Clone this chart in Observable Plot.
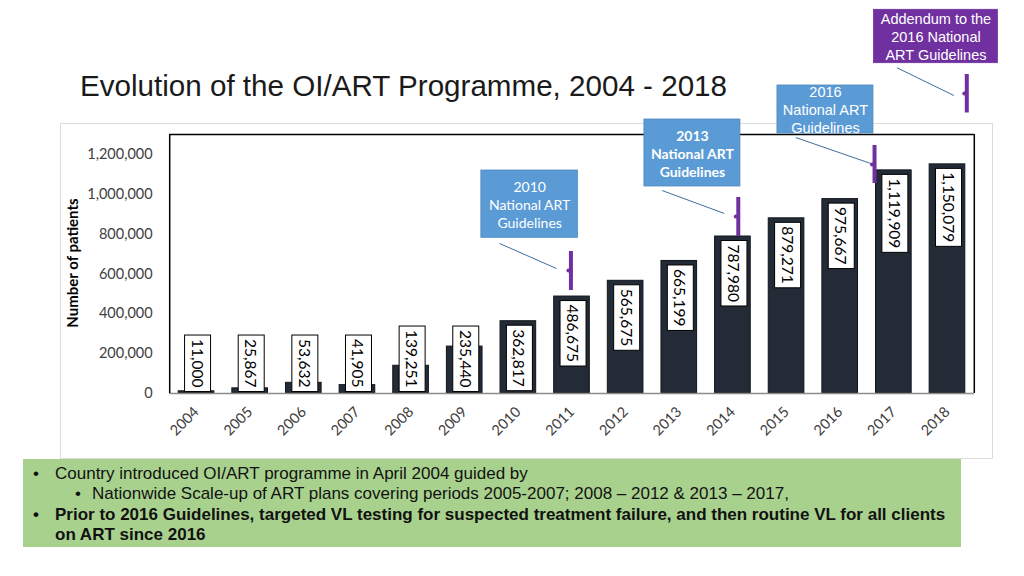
<!DOCTYPE html>
<html><head><meta charset="utf-8">
<script src="https://cdn.jsdelivr.net/npm/d3@7"></script>
<script src="https://cdn.jsdelivr.net/npm/@observablehq/plot@0.6"></script>
<style>
body{margin:0;width:1024px;height:576px;position:relative;background:#fff;overflow:hidden;font-family:"Liberation Sans",Arial,sans-serif;}
#panel{position:absolute;left:60px;top:123px;width:931px;height:334px;border:1px solid #dcdcdc;background:#fff;}
#chart{position:absolute;left:0;top:0;}
#title{position:absolute;left:80px;top:71px;font-size:29.6px;line-height:1;color:#1a1a1a;white-space:nowrap;}
#ylabel{position:absolute;left:72px;top:263px;transform:translate(-50%,-50%) rotate(-90deg);font:bold 15px Lato,sans-serif;white-space:nowrap;color:#000}
#notes{position:absolute;left:23px;top:459px;width:938px;height:88px;background:#a9d18e;font-size:17px;line-height:1;color:#111;}
.ln{position:absolute;white-space:nowrap}
.b{font-weight:bold}
</style>
</head><body>
<div id="panel"></div>
<div id="chart"></div>
<div id="title">Evolution of the OI/ART Programme, 2004 - 2018</div>
<div id="ylabel">Number of patients</div>
<div id="notes">
  <div class="ln" style="left:10px;top:6px">•</div>
  <div class="ln" style="left:32px;top:6px">Country introduced OI/ART programme in April 2004 guided by</div>
  <div class="ln" style="left:52px;top:26px">•</div>
  <div class="ln" style="left:69px;top:26px">Nationwide Scale-up of ART plans covering periods 2005-2007; 2008 – 2012 &amp; 2013 – 2017,</div>
  <div class="ln b" style="left:10px;top:47px">•</div>
  <div class="ln b" style="left:32px;top:47px">Prior to 2016 Guidelines, targeted VL testing for suspected treatment failure, and then routine VL for all clients</div>
  <div class="ln b" style="left:32px;top:67px">on ART since 2016</div>
</div>
<script>
// ---- data ----
const years = [2004, 2005, 2006, 2007, 2008, 2009, 2010, 2011, 2012, 2013, 2014, 2015, 2016, 2017, 2018];
const patients = [11000, 25867, 53632, 41905, 139251, 235440, 362817, 486675, 565675, 665199, 787980, 879271, 975667, 1119909, 1150079];
const yTicks = [0, 200000, 400000, 600000, 800000, 1000000, 1200000];

// ---- annotations (in data coordinates: year, patients) ----
const noteText = ["Addendum to the\n2016 National\nART Guidelines", "2016\nNational ART\nGuidelines", "2013\nNational ART\nGuidelines", "2010\nNational ART\nGuidelines"];
const noteX1 = [2016.63, 2014.83, 2012.35, 2009.31];
const noteX2 = [2018.94, 2016.62, 2014.14, 2011.11];
const noteY1 = [1657900, 1305000, 1039000, 781500];
const noteY2 = [1925900, 1546000, 1375300, 1119300];

const bracketX = [2010.98, 2014.10, 2016.64, 2018.36];
const bracketLo = [517000, 788000, 1054000, 1408000];
const bracketHi = [712700, 983800, 1244800, 1601200];
const bracketMid = [617400, 888400, 1149400, 1506000];

const leadX1 = [2009.65, 2012.68, 2015.17, 2017.06];
const leadY1 = [752900, 1018900, 1284900, 1634800];
const leadX2 = [2010.71, 2013.84, 2016.57, 2018.12];
const leadY2 = [627400, 903500, 1154400, 1495700];

const bars = years.map((year, i) => ({year, value: patients[i]}));
const notes = noteText.map((text, i) => ({text, i, x1: noteX1[i], x2: noteX2[i], y1: noteY1[i], y2: noteY2[i]}));
const brackets = bracketX.map((x, i) => ({x, lo: bracketLo[i], hi: bracketHi[i], mid: bracketMid[i]}));
const leaders = leadX1.map((x1, i) => ({x1, y1: leadY1[i], x2: leadX2[i], y2: leadY2[i]}));

const fmt = d3.format(",");
const purple = "#7030a0", blue = "#5b9bd5";

const plot = Plot.plot({
  width: 1024, height: 460,
  marginTop: 134, marginBottom: 67, marginLeft: 169.2, marginRight: 50.2,
  style: {background: "transparent", fontFamily: "Lato, sans-serif", fontSize: "14.5px", color: "#404040", overflow: "visible"},
  x: {type: "linear", domain: [2003.5, 2018.5], ticks: years, tickFormat: d => String(d), tickRotate: -45, tickSize: 0, tickPadding: 16, label: null},
  y: {domain: [0, 1300000], ticks: yTicks, tickFormat: fmt, tickSize: 0, tickPadding: 17, label: null},
  marks: [
    Plot.rectY(bars, {x1: d => d.year - 0.5, x2: d => d.year + 0.5, y: "value", insetLeft: 9, insetRight: 9, fill: "#232b36", stroke: "#10151b", strokeWidth: 1}),
    Plot.ruleY([0], {stroke: "#8c8c8c", strokeWidth: 1.5}),
    Plot.ruleX([2003.5, 2018.5], {stroke: "#000", strokeWidth: 1.5}),
    Plot.ruleY([1300000], {stroke: "#000", strokeWidth: 1.5}),
    // bar value labels (first two text marks; boxed after render)
    Plot.text(bars.filter(d => d.value >= 300000), {x: "year", y: "value", text: d => fmt(d.value), rotate: 90, textAnchor: "start", dy: 8, fontSize: 15.5, fill: "#000", fontFamily: "Lato, sans-serif"}),
    Plot.text(bars.filter(d => d.value < 300000), {x: "year", y: 0, text: d => fmt(d.value), rotate: 90, textAnchor: "end", dy: -6, fontSize: 15.5, fill: "#000", fontFamily: "Lato, sans-serif"}),
    // annotation boxes
    Plot.rect(notes, {x1: "x1", x2: "x2", y1: "y1", y2: "y2", fill: d => d.i === 0 ? purple : blue, stroke: d => d.i === 0 ? purple : "#4f88bf", strokeWidth: 0.8}),
    Plot.text(notes.filter(d => d.i < 2), {x: d => (d.x1 + d.x2) / 2, y: d => (d.y1 + d.y2) / 2, text: "text", fill: "#fff", fontSize: 14.5, lineHeight: 1.22, fontFamily: "Liberation Sans, Arial, sans-serif"}),
    Plot.text(notes.filter(d => d.i === 2), {x: d => (d.x1 + d.x2) / 2, y: d => (d.y1 + d.y2) / 2, text: "text", fill: "#fff", fontSize: 14, fontWeight: "bold", lineHeight: 1.3, fontFamily: "Lato, sans-serif"}),
    Plot.text(notes.filter(d => d.i === 3), {x: d => (d.x1 + d.x2) / 2, y: d => (d.y1 + d.y2) / 2, text: "text", fill: "#fff", fontSize: 14, lineHeight: 1.28, fontFamily: "Lato, sans-serif"}),
    Plot.link(leaders, {x1: "x1", y1: "y1", x2: "x2", y2: "y2", stroke: "#3f6f9c", strokeWidth: 1}),
    Plot.ruleX(brackets, {x: "x", y1: "lo", y2: "hi", stroke: purple, strokeWidth: 4}),
    Plot.dot(brackets, {x: "x", y: "mid", r: 2, fill: purple, dx: -2.5})
  ]
});
document.getElementById("chart").appendChild(plot);

// white boxes behind bar value labels
const ns = "http://www.w3.org/2000/svg";
const textGroups = plot.querySelectorAll('g[aria-label="text"]');
[textGroups[0], textGroups[1]].forEach(g => {
  if (!g) return;
  g.querySelectorAll("text").forEach(t => {
    const b = t.getBBox();
    const r = document.createElementNS(ns, "rect");
    r.setAttribute("x", b.x - 4);
    r.setAttribute("y", b.y - 4);
    r.setAttribute("width", b.width + 8);
    r.setAttribute("height", b.height + 8);
    r.setAttribute("fill", "#fff");
    r.setAttribute("stroke", "#000");
    r.setAttribute("stroke-width", "1");
    r.setAttribute("transform", t.getAttribute("transform"));
    g.insertBefore(r, t);
  });
});
</script>
</body></html>
